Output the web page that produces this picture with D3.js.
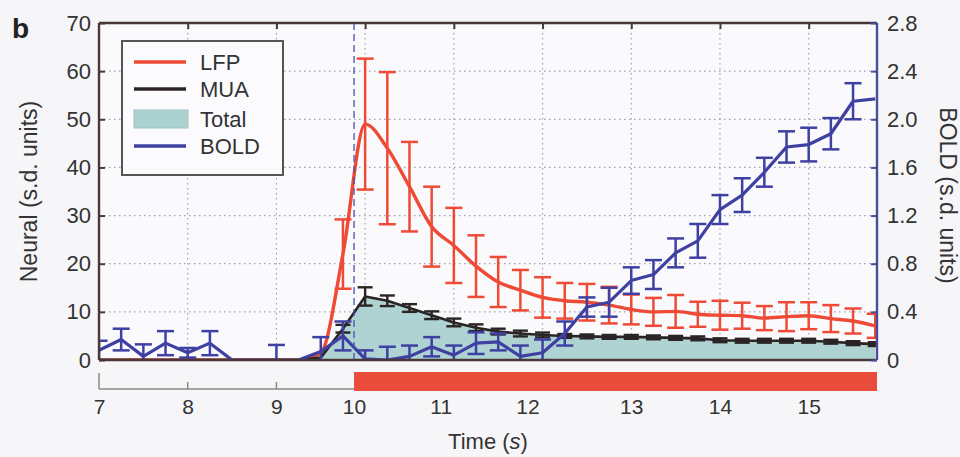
<!DOCTYPE html>
<html>
<head>
<meta charset="utf-8">
<script src="https://cdn.jsdelivr.net/npm/d3@7/dist/d3.min.js"></script>
<style>
  html, body { margin: 0; padding: 0; background: #f6f6f8; }
  svg { display: block; }
  text { font-family: "Liberation Sans", Arial, Helvetica, sans-serif; fill: #333; }
</style>
</head>
<body>
<svg id="chart" width="960" height="457"></svg>
<script>
// ---------------- data ----------------
const times = [7, 7.25, 7.5, 7.75, 8, 8.25, 8.5, 8.75, 9, 9.25, 9.5, 9.75,
  10, 10.25, 10.5, 10.75, 11, 11.25, 11.5, 11.75, 12, 12.25, 12.5, 12.75,
  13, 13.25, 13.5, 13.75, 14, 14.25, 14.5, 14.75, 15, 15.25, 15.5, 15.75];

const lfpMean = [0, 0, 0, 0, 0, 0, 0, 0, 0, 0, 1.5, 22,
  49, 44, 36, 27.7, 23.8, 19.5, 16.2, 14.5, 13, 12.3, 12, 11.4,
  10.5, 10, 10.1, 9.5, 9.3, 9.2, 8.7, 9, 9.2, 8.6, 8.1, 7.1];
const lfpErr = [0, 0, 0, 0, 0, 0, 0, 0, 0, 0, 0, 7.2,
  13.6, 15.8, 9.3, 8.3, 7.8, 6.4, 5.2, 4.2, 4.2, 3.7, 3.8, 3.8,
  3.1, 2.9, 3.4, 2.6, 3, 2.7, 2.5, 3, 2.8, 2.8, 2.6, 2.5];

const muaMean = [0, 0, 0, 0, 0, 0, 0, 0, 0, 0, 0.5, 6.5,
  13.2, 12.3, 10.8, 9.3, 7.8, 6.7, 5.9, 5.5, 5.2, 5.0, 4.9, 4.8,
  4.8, 4.7, 4.6, 4.5, 4.1, 4.0, 4.0, 4.0, 4.0, 3.8, 3.5, 3.3];
const muaErr = [0, 0, 0, 0, 0, 0, 0, 0, 0, 0, 0, 0.8,
  1.9, 1.1, 0.8, 0.8, 0.8, 0.7, 0.6, 0.6, 0.5, 0.4, 0.4, 0.4,
  0.4, 0.4, 0.4, 0.4, 0.4, 0.4, 0.4, 0.4, 0.4, 0.4, 0.4, 0.4];

const totalMean = [0, 0, 0, 0, 0, 0, 0, 0, 0, 0, 0.5, 6.5,
  13.2, 12.3, 10.8, 9.3, 7.8, 6.7, 5.9, 5.5, 5.2, 5.0, 4.9, 4.8,
  4.8, 4.7, 4.6, 4.5, 4.1, 4.0, 4.0, 4.0, 4.0, 3.8, 3.5, 3.3];

const boldMean = [0.08, 0.17, 0.03, 0.14, 0.06, 0.14, 0, 0, 0, 0, 0.07, 0.2,
  0.01, 0, 0.03, 0.11, 0.04, 0.14, 0.15, 0.03, 0.06, 0.22, 0.44, 0.48,
  0.66, 0.71, 0.89, 0.99, 1.25, 1.37, 1.56, 1.77, 1.79, 1.88, 2.15, 2.17];
const boldErr = [0.08, 0.09, 0.1, 0.1, 0.04, 0.1, 0, 0, 0.125, 0, 0.12, 0.12,
  0.07, 0.11, 0.09, 0.08, 0.08, 0.09, 0.07, 0.09, 0.11, 0.1, 0.08, 0.12,
  0.11, 0.12, 0.12, 0.14, 0.12, 0.14, 0.12, 0.13, 0.14, 0.13, 0.15, 0];

const leftTicks = [0, 10, 20, 30, 40, 50, 60, 70];
const rightTicks = [0, 0.4, 0.8, 1.2, 1.6, 2.0, 2.4, 2.8];
const timeTicks = [7, 8, 9, 10, 11, 12, 13, 14, 15];
const stimOnset = 9.875;
const stimEnd = 15.77;
const legendItems = ["LFP", "MUA", "Total", "BOLD"];

// ---------------- drawing ----------------
(function draw() {
const colors = { LFP: "#ee4a36", MUA: "#2a2424", Total: "#abd1d1", BOLD: "#3e40a2" };
const L = 99, R = 877, T = 23, B = 360;

const svg = d3.select("#chart");

const x = d3.scaleLinear().domain([7, 15.77]).range([L, R]);
const y = d3.scaleLinear().domain([0, 70]).range([B, T]);
const yR = d3.scaleLinear().domain([0, 2.8]).range([B, T]);
// the lower time axis of the original figure is slightly distorted between 9 and 13 s
const xb = d3.scaleLinear()
  .domain([7, 9, 10, 12, 13, 15.77])
  .range([x(7), x(9), x(stimOnset), x(11.83), x(13), x(15.77)]);

svg.append("rect").attr("x", L).attr("y", T).attr("width", R - L).attr("height", B - T)
  .attr("fill", "#fafafd");

svg.append("defs").append("clipPath").attr("id", "clip")
  .append("rect").attr("x", L).attr("y", T).attr("width", R - L).attr("height", B - T);

// grid
const grid = svg.append("g").attr("stroke", "#a0a0ac").attr("stroke-width", 1.2)
  .attr("stroke-dasharray", "1.5,3.5");
grid.selectAll("line.v").data(timeTicks.filter(t => t > 7)).join("line").attr("class", "v")
  .attr("x1", d => x(d)).attr("x2", d => x(d)).attr("y1", T).attr("y2", B);
grid.selectAll("line.h").data(leftTicks.filter(t => t > 0 && t < 70)).join("line")
  .attr("class", "h")
  .attr("x1", L).attr("x2", R).attr("y1", d => y(d)).attr("y2", d => y(d));

const plot = svg.append("g").attr("clip-path", "url(#clip)");

const rows = times.map((t, i) => ({
  t, lfp: lfpMean[i], lfpE: lfpErr[i], mua: muaMean[i], muaE: muaErr[i],
  tot: totalMean[i], bold: boldMean[i], boldE: boldErr[i]
}));

// total area
plot.append("path").datum(rows)
  .attr("fill", colors.Total).attr("opacity", 0.95)
  .attr("d", d3.area().x(d => x(d.t)).y0(y(0)).y1(d => y(d.tot)));

// stimulus onset dashed line
svg.append("line").attr("x1", x(stimOnset)).attr("x2", x(stimOnset)).attr("y1", T).attr("y2", B)
  .attr("stroke", "#4a4fa8").attr("stroke-width", 1.3).attr("stroke-dasharray", "7,4");

function errorBars(key, errKey, scale, color, cap, sw) {
  const g = plot.append("g").attr("stroke", color).attr("stroke-width", sw).attr("fill", "none");
  const data = rows.filter(d => d[errKey] > 0);
  g.selectAll("line.v").data(data).join("line").attr("class", "v")
    .attr("x1", d => x(d.t)).attr("x2", d => x(d.t))
    .attr("y1", d => scale(d[key] - d[errKey])).attr("y2", d => scale(d[key] + d[errKey]));
  g.selectAll("line.t").data(data).join("line").attr("class", "t")
    .attr("x1", d => x(d.t) - cap).attr("x2", d => x(d.t) + cap)
    .attr("y1", d => scale(d[key] + d[errKey])).attr("y2", d => scale(d[key] + d[errKey]));
  g.selectAll("line.b").data(data).join("line").attr("class", "b")
    .attr("x1", d => x(d.t) - cap).attr("x2", d => x(d.t) + cap)
    .attr("y1", d => scale(d[key] - d[errKey])).attr("y2", d => scale(d[key] - d[errKey]));
}

// LFP
plot.append("path").datum(rows).attr("fill", "none").attr("stroke", colors.LFP)
  .attr("stroke-width", 3.4).attr("stroke-linejoin", "round")
  .attr("d", d3.line().curve(d3.curveMonotoneX).x(d => x(d.t)).y(d => y(d.lfp)));
errorBars("lfp", "lfpE", y, colors.LFP, 8.5, 2.5);

// MUA
plot.append("path").datum(rows).attr("fill", "none").attr("stroke", colors.MUA)
  .attr("stroke-width", 2.6).attr("stroke-linejoin", "round")
  .attr("d", d3.line().x(d => x(d.t)).y(d => y(d.mua)));
errorBars("mua", "muaE", y, colors.MUA, 7.5, 2.4);

// BOLD
plot.append("path").datum(rows).attr("fill", "none").attr("stroke", colors.BOLD)
  .attr("stroke-width", 3.2).attr("stroke-linejoin", "round")
  .attr("d", d3.line().x(d => x(d.t)).y(d => yR(d.bold)));
errorBars("bold", "boldE", yR, colors.BOLD, 8.5, 2.5);

// frame
svg.append("line").attr("x1", L).attr("x2", R).attr("y1", T).attr("y2", T)
  .attr("stroke", "#4a3838").attr("stroke-width", 2.4);
svg.append("line").attr("x1", L).attr("x2", R).attr("y1", B).attr("y2", B)
  .attr("stroke", "#4a3838").attr("stroke-width", 2.4);
svg.append("line").attr("x1", L).attr("x2", L).attr("y1", T).attr("y2", B)
  .attr("stroke", "#4a3838").attr("stroke-width", 2.4);
svg.append("line").attr("x1", R).attr("x2", R).attr("y1", T).attr("y2", B)
  .attr("stroke", "#4a4c9c").attr("stroke-width", 2.4);

// axes
const fs = "22px";
const axL = svg.append("g").attr("transform", `translate(${L},0)`)
  .call(d3.axisLeft(y).tickValues(leftTicks).tickSize(-6).tickPadding(8).tickFormat(d3.format("d")));
axL.select(".domain").remove();
axL.selectAll("line").attr("stroke", "#4a3838").attr("stroke-width", 2);
axL.selectAll("text").attr("font-size", fs).style("fill", "#333");

const axR = svg.append("g").attr("transform", `translate(${R},0)`)
  .call(d3.axisRight(yR).tickValues(rightTicks).tickSize(-6).tickPadding(10)
    .tickFormat(d => d === 0 ? "0" : d3.format(".1f")(d)));
axR.select(".domain").remove();
axR.selectAll("line").attr("stroke", "#4a4c9c").attr("stroke-width", 2);
axR.selectAll("text").attr("font-size", fs).style("fill", "#333");

const axT = svg.append("g").attr("transform", `translate(0,${T})`)
  .call(d3.axisTop(x).tickValues(timeTicks.filter(t => t > 7)).tickSize(-6).tickFormat(""));
axT.select(".domain").remove();
axT.selectAll("line").attr("stroke", "#4a3838").attr("stroke-width", 2);

// lower time axis with stimulus bar
const BY = 389;
svg.append("line").attr("x1", xb(7)).attr("x2", xb(10)).attr("y1", BY).attr("y2", BY)
  .attr("stroke", "#8a8a8a").attr("stroke-width", 1.5);
svg.append("rect").attr("x", xb(10)).attr("y", 372).attr("width", xb(stimEnd) - xb(10)).attr("height", 19)
  .attr("fill", "#ea4c3c");
const axB = svg.append("g").attr("transform", `translate(0,${BY})`)
  .call(d3.axisBottom(xb).tickValues(timeTicks).tickSize(0).tickPadding(10).tickFormat(d3.format("d")));
axB.select(".domain").remove();
axB.selectAll("text").attr("font-size", "21px").style("fill", "#333");
const smallTicks = svg.append("g").attr("stroke", "#8a8a8a").attr("stroke-width", 1.5);
smallTicks.selectAll("line").data([7, 8, 9]).join("line")
  .attr("x1", d => xb(d)).attr("x2", d => xb(d))
  .attr("y1", d => d === 7 ? 373 : BY - 7).attr("y2", BY);

// titles
svg.append("text").attr("transform", `translate(37,${(T + B) / 2}) rotate(-90)`)
  .attr("text-anchor", "middle").attr("font-size", "23px").text("Neural (s.d. units)");
svg.append("text").attr("transform", `translate(940,${(T + B) / 2 + 4}) rotate(90)`)
  .attr("text-anchor", "middle").attr("font-size", "23px").text("BOLD (s.d. units)");
const xt = svg.append("text").attr("x", (L + R) / 2).attr("y", 449)
  .attr("text-anchor", "middle").attr("font-size", "22px");
xt.append("tspan").text("Time (");
xt.append("tspan").attr("font-style", "italic").text("s");
xt.append("tspan").text(")");

svg.append("text").attr("x", 12).attr("y", 38).attr("font-size", "28px").attr("font-weight", "bold")
  .style("fill", "#222").text("b");

// legend
const lg = svg.append("g");
lg.append("rect").attr("x", 122).attr("y", 41).attr("width", 161).attr("height", 134)
  .attr("fill", "#fbfbfd").attr("stroke", "#555").attr("stroke-width", 2);
const rowY = [62, 89, 119, 146];
legendItems.forEach((name, i) => {
  if (name === "Total") {
    lg.append("rect").attr("x", 134).attr("y", rowY[i] - 9).attr("width", 54).attr("height", 18)
      .attr("fill", colors.Total).attr("stroke", "#9cc4c0").attr("stroke-width", 1);
  } else {
    lg.append("line").attr("x1", 134).attr("x2", 186).attr("y1", rowY[i]).attr("y2", rowY[i])
      .attr("stroke", colors[name]).attr("stroke-width", 3.5);
  }
  lg.append("text").attr("x", 200).attr("y", rowY[i] + 8).attr("font-size", "22px").text(name);
});
})();
</script>
</body>
</html>
